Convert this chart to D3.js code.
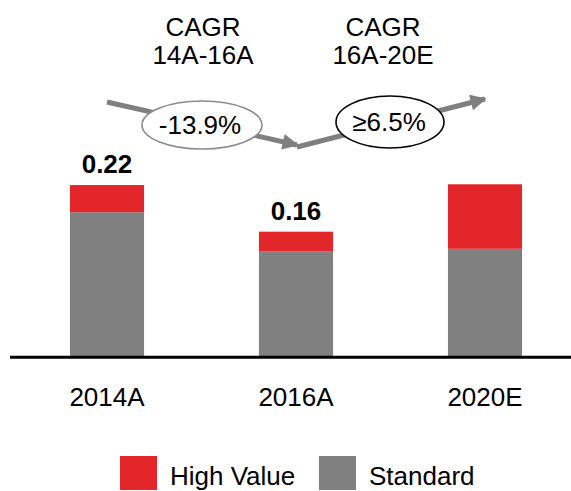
<!DOCTYPE html>
<html>
<head>
<meta charset="utf-8">
<script src="https://cdn.jsdelivr.net/npm/d3@7"></script>
<style>
  html, body { margin: 0; padding: 0; background: #fff; }
  svg { display: block; font-family: "Liberation Sans", Arial, sans-serif; }
</style>
</head>
<body>
<svg id="chart" width="571" height="491"></svg>
<script>
// Market size by year, split into segments
const categories = ["2014A", "2016A", "2020E"];
const standard   = [0.185, 0.135, 0.138];
const highValue  = [0.035, 0.025, 0.083];
const totalLabels = ["0.22", "0.16", null];
const seriesNames = ["High Value", "Standard"];
const seriesColors = ["#E3262A", "#808080"];

// Growth annotations between periods
const cagrTitles = [["CAGR", "14A-16A"], ["CAGR", "16A-20E"]];
const cagrValues = ["-13.9%", "\u22656.5%"];

const svg = d3.select("#chart");
const W = 571, H = 491;
const baseY = 356;

const x = d3.scaleBand()
  .domain(categories)
  .range([12.5, 579.5])
  .paddingInner(0.608)
  .paddingOuter(0.304);

const y = d3.scaleLinear()
  .domain([0, 0.45])
  .range([baseY, baseY - 0.45 * 777]);

const rows = categories.map((c, i) => ({
  cat: c, standard: standard[i], high: highValue[i], label: totalLabels[i]
}));

// Stacked bars: standard at bottom, high value on top
const g = svg.append("g");
g.selectAll("rect.std").data(rows).join("rect")
  .attr("class", "std")
  .attr("x", d => x(d.cat))
  .attr("width", x.bandwidth())
  .attr("y", d => y(d.standard))
  .attr("height", d => y(0) - y(d.standard))
  .attr("fill", seriesColors[1]);

g.selectAll("rect.high").data(rows).join("rect")
  .attr("class", "high")
  .attr("x", d => x(d.cat))
  .attr("width", x.bandwidth())
  .attr("y", d => y(d.standard + d.high))
  .attr("height", d => y(d.standard) - y(d.standard + d.high))
  .attr("fill", seriesColors[0]);

// Total labels above bars
g.selectAll("text.total").data(rows.filter(d => d.label)).join("text")
  .attr("class", "total")
  .attr("x", d => x(d.cat) + x.bandwidth() / 2)
  .attr("y", d => y(d.standard + d.high) - 12)
  .attr("text-anchor", "middle")
  .attr("font-size", 26)
  .attr("font-weight", "bold")
  .attr("fill", "#000")
  .text(d => d.label);

// Baseline
svg.append("line")
  .attr("x1", 10).attr("x2", W)
  .attr("y1", baseY + 1.2).attr("y2", baseY + 1.2)
  .attr("stroke", "#000")
  .attr("stroke-width", 3);

// Category axis labels
const xAxis = svg.append("g")
  .attr("transform", `translate(0,${baseY})`)
  .call(d3.axisBottom(x).tickSize(0).tickPadding(0));
xAxis.select(".domain").remove();
xAxis.selectAll("text")
  .attr("dy", null)
  .attr("y", 50)
  .attr("font-size", 26)
  .attr("font-family", "Liberation Sans, Arial, sans-serif")
  .attr("fill", "#000");

// Growth arrows between bar centres
const cx = c => x(c) + x.bandwidth() / 2;
const defs = svg.append("defs");
defs.append("marker")
  .attr("id", "arrowHead")
  .attr("viewBox", "0 0 10 10")
  .attr("refX", 9).attr("refY", 5)
  .attr("markerWidth", 3.6).attr("markerHeight", 3.2)
  .attr("markerUnits", "strokeWidth")
  .attr("orient", "auto")
  .append("path")
  .attr("d", "M0,0 L10,5 L0,10 Z")
  .attr("fill", "#7f7f7f");

const arrows = [
  { x1: cx(categories[0]), y1: 102, x2: cx(categories[1]) + 1, y2: 145 },
  { x1: cx(categories[1]) + 1, y1: 147, x2: cx(categories[2]), y2: 99 }
];
svg.selectAll("line.arrow").data(arrows).join("line")
  .attr("class", "arrow")
  .attr("x1", d => d.x1).attr("y1", d => d.y1)
  .attr("x2", d => d.x2).attr("y2", d => d.y2)
  .attr("stroke", "#7f7f7f")
  .attr("stroke-width", 5)
  .attr("marker-end", "url(#arrowHead)");

// CAGR bubbles
const bubbles = [
  { cx: 202, cy: 125, rx: 60, ry: 24, stroke: "#8c8c8c", text: cagrValues[0], tx: 200, ty: 134 },
  { cx: 390, cy: 122, rx: 54, ry: 26, stroke: "#000", text: cagrValues[1], tx: 389, ty: 131 }
];
svg.selectAll("ellipse.bubble").data(bubbles).join("ellipse")
  .attr("class", "bubble")
  .attr("cx", d => d.cx).attr("cy", d => d.cy)
  .attr("rx", d => d.rx).attr("ry", d => d.ry)
  .attr("fill", "#fff")
  .attr("stroke", d => d.stroke)
  .attr("stroke-width", 1.6);
svg.selectAll("text.bubble").data(bubbles).join("text")
  .attr("class", "bubble")
  .attr("x", d => d.tx).attr("y", d => d.ty)
  .attr("text-anchor", "middle")
  .attr("font-size", 26)
  .attr("fill", "#000")
  .text(d => d.text);

// CAGR period titles
const titlePos = [203, 383];
cagrTitles.forEach((lines, i) => {
  const t = svg.append("text")
    .attr("text-anchor", "middle")
    .attr("font-size", 26)
    .attr("fill", "#000");
  lines.forEach((s, j) => {
    t.append("tspan").attr("x", titlePos[i]).attr("y", 36 + j * 27.5).text(s);
  });
});

// Legend
const legendItems = [
  { name: seriesNames[0], color: seriesColors[0], x: 120 },
  { name: seriesNames[1], color: seriesColors[1], x: 319 }
];
const lg = svg.selectAll("g.legend").data(legendItems).join("g")
  .attr("class", "legend")
  .attr("transform", d => `translate(${d.x},456)`);
lg.append("rect")
  .attr("width", 37).attr("height", 34)
  .attr("fill", d => d.color);
lg.append("text")
  .attr("x", 50).attr("y", 29)
  .attr("font-size", 26)
  .attr("fill", "#000")
  .text(d => d.name);
</script>
</body>
</html>
